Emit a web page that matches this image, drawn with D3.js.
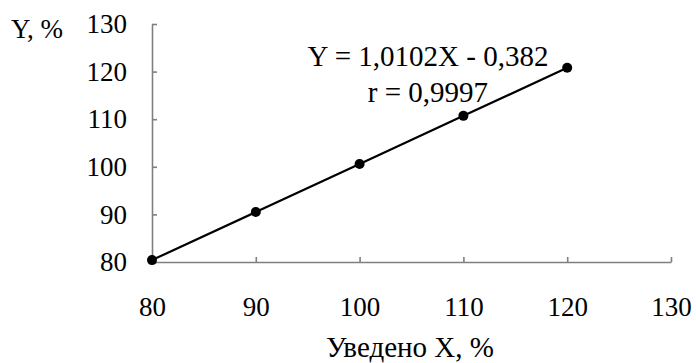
<!DOCTYPE html>
<html>
<head>
<meta charset="utf-8">
<script src="https://cdn.jsdelivr.net/npm/d3@7"></script>
<style>
  body { margin: 0; background: #fff; }
</style>
</head>
<body>
<div id="chart"></div>
<script>
const width = 696;
const height = 363;
const fontSize = 27;
const bigFontSize = 29;
const fontFamily = 'Liberation Serif';

// data
const xValues = [80, 90, 100, 110, 120];
const yValues = [80.4, 90.5, 100.6, 110.7, 120.8];
const xTicks = [80, 90, 100, 110, 120, 130];
const yTicks = [80, 90, 100, 110, 120, 130];
const equationLines = ['Y = 1,0102X - 0,382', 'r = 0,9997'];

const points = xValues.map((x, i) => ({ x, y: yValues[i] }));

const svg = d3.select('#chart')
  .append('svg')
  .attr('width', width)
  .attr('height', height)
  .attr('font-family', fontFamily)
  .attr('font-size', fontSize);

const xScale = d3.scaleLinear().domain([80, 130]).range([152, 671]);
const yScale = d3.scaleLinear().domain([80, 130]).range([262, 24]);

const xAxis = d3.axisBottom(xScale)
  .tickValues(xTicks)
  .tickSizeInner(-5)
  .tickSizeOuter(0)
  .tickPadding(35);

const yAxis = d3.axisLeft(yScale)
  .tickValues(yTicks)
  .tickSizeInner(-5)
  .tickSizeOuter(0)
  .tickPadding(25);

const gx = svg.append('g')
  .attr('transform', `translate(0, ${yScale(80)})`)
  .call(xAxis);

const gy = svg.append('g')
  .attr('transform', `translate(${xScale(80)}, 0)`)
  .call(yAxis);

[gx, gy].forEach(g => {
  g.attr('font-size', fontSize).attr('font-family', fontFamily);
  g.select('.domain').attr('stroke', '#7f7f7f').attr('stroke-width', 1.6);
  g.selectAll('.tick line').attr('stroke', '#7f7f7f').attr('stroke-width', 1.6);
  g.selectAll('.tick text').attr('fill', '#000');
});

// line through points
const line = d3.line()
  .x(d => xScale(d.x))
  .y(d => yScale(d.y));

svg.append('path')
  .datum(points)
  .attr('fill', 'none')
  .attr('stroke', '#000')
  .attr('stroke-width', 2.2)
  .attr('d', line);

svg.append('g')
  .selectAll('circle')
  .data(points)
  .join('circle')
  .attr('cx', d => xScale(d.x))
  .attr('cy', d => yScale(d.y))
  .attr('r', 5)
  .attr('fill', '#000');

// axis titles
svg.append('text')
  .attr('x', 11)
  .attr('y', 38)
  .text('Y, %');

svg.append('text')
  .attr('x', 410)
  .attr('y', 357)
  .attr('text-anchor', 'middle')
  .attr('font-size', bigFontSize)
  .text('Уведено X, %');

// equation
svg.append('g')
  .selectAll('text')
  .data(equationLines)
  .join('text')
  .attr('x', 428)
  .attr('y', (d, i) => 66 + i * 36)
  .attr('text-anchor', 'middle')
  .attr('font-size', bigFontSize)
  .text(d => d);
</script>
</body>
</html>
